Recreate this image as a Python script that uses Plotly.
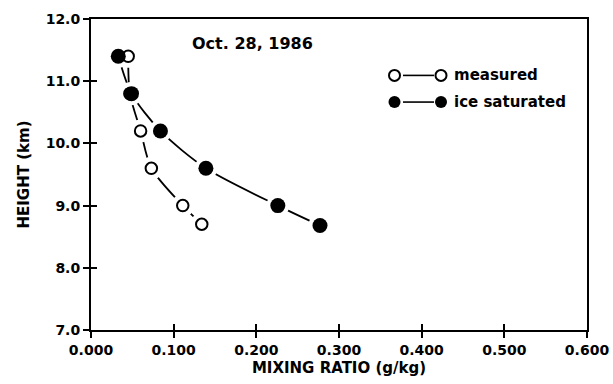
import plotly.graph_objects as go

# Data
meas_x = [0.045, 0.047, 0.060, 0.073, 0.111, 0.134]
meas_y = [11.4, 10.8, 10.2, 9.6, 9.0, 8.7]
ice_x = [0.033, 0.049, 0.084, 0.139, 0.226, 0.277]
ice_y = [11.4, 10.8, 10.2, 9.6, 9.0, 8.68]
x_ticks = [0.0, 0.1, 0.2, 0.3, 0.4, 0.5, 0.6]
x_tick_text = ["0.000", "0.100", "0.200", "0.300", "0.400", "0.500", "0.600"]
y_ticks = [7.0, 8.0, 9.0, 10.0, 11.0, 12.0]
y_tick_text = ["7.0", "8.0", "9.0", "10.0", "11.0", "12.0"]
legend_names = ["measured", "ice saturated"]
title_text = "Oct. 28, 1986"

FONT = "DejaVu Sans"
TXT = dict(family=FONT, size=15, color="black", weight="bold")
fig = go.Figure()

# curves
for xs, ys in [(meas_x, meas_y), (ice_x, ice_y)]:
    fig.add_trace(go.Scatter(x=xs, y=ys, mode="lines",
                             line=dict(color="black", width=1.8, shape="spline", smoothing=0.8),
                             showlegend=False, hoverinfo="skip"))
# white halos for gaps between line and markers
for xs, ys in [(meas_x, meas_y), (ice_x, ice_y)]:
    fig.add_trace(go.Scatter(x=xs, y=ys, mode="markers",
                             marker=dict(size=23, color="white", line=dict(width=0)),
                             showlegend=False, hoverinfo="skip"))
# markers
fig.add_trace(go.Scatter(x=meas_x, y=meas_y, mode="markers", name=legend_names[0],
                         marker=dict(size=11.5, color="white", line=dict(color="black", width=2)),
                         showlegend=False))
fig.add_trace(go.Scatter(x=ice_x, y=ice_y, mode="markers", name=legend_names[1],
                         marker=dict(size=15, color="black", line=dict(color="black", width=0)),
                         showlegend=False))

# inside ticks via overlay axes
fig.add_trace(go.Scatter(x=[None], y=[None], xaxis="x2", yaxis="y2", showlegend=False))

L, R, T, B = 91, 587, 18.5, 330
W, H = 613, 384

def px(xp):
    return (xp - L) / (R - L)

def py(yp):
    return (B - yp) / (B - T)

shapes = []
annotations = []
rows = [(75, False), (101.7, True)]
for (yp, filled), name in zip(rows, legend_names):
    for xc in (394.5, 441):
        r = 5.5 if not filled else 6
        shapes.append(dict(type="circle", xref="paper", yref="paper",
                           xsizemode="pixel", ysizemode="pixel",
                           xanchor=px(xc), yanchor=py(yp),
                           x0=-r, x1=r, y0=-r, y1=r,
                           fillcolor="black" if filled else "white",
                           line=dict(color="black", width=2 if not filled else 0)))
    shapes.append(dict(type="line", xref="paper", yref="paper",
                       x0=px(403), x1=px(434), y0=py(yp), y1=py(yp),
                       line=dict(color="black", width=1.6)))
    annotations.append(dict(text=name, xref="paper", yref="paper", x=px(452), y=py(yp),
                            xanchor="left", yanchor="middle", showarrow=False,
                            font=TXT))

annotations.append(dict(text=title_text, xref="paper", yref="paper", x=px(252), y=py(43),
                        xanchor="center", yanchor="middle", showarrow=False,
                        font=dict(family=FONT, size=16, color="black", weight="bold")))

axis_common = dict(showgrid=False, zeroline=False, showline=True, linecolor="black",
                   linewidth=2, mirror=True, ticks="outside", ticklen=6, tickwidth=2,
                   tickcolor="black", automargin=False,
                   tickfont=dict(family=FONT, size=14, color="black", weight="bold"))

fig.update_layout(
    width=W, height=H,
    margin=dict(l=L, r=W - R, t=T, b=H - B),
    paper_bgcolor="white", plot_bgcolor="white",
    showlegend=False,
    xaxis=dict(range=[0, 0.6], tickvals=x_ticks, ticktext=x_tick_text,
               title=dict(text="MIXING RATIO (g/kg)", font=TXT, standoff=6),
               **axis_common),
    yaxis=dict(range=[7, 12], tickvals=y_ticks, ticktext=y_tick_text,
               title=dict(text="HEIGHT (km)", font=TXT, standoff=12),
               **axis_common),
    xaxis2=dict(range=[0, 0.6], tickvals=x_ticks, overlaying="x", showticklabels=False,
                ticks="inside", ticklen=6, tickwidth=2, tickcolor="black", automargin=False,
                showgrid=False, zeroline=False, showline=False),
    yaxis2=dict(range=[7, 12], tickvals=y_ticks, overlaying="y", showticklabels=False,
                ticks="inside", ticklen=6, tickwidth=2, tickcolor="black", automargin=False,
                showgrid=False, zeroline=False, showline=False),
    shapes=shapes,
    annotations=annotations,
)

fig.write_html("out.html", config={"displayModeBar": False},
               post_script="document.body.style.margin='0';document.body.style.overflow='hidden';")
